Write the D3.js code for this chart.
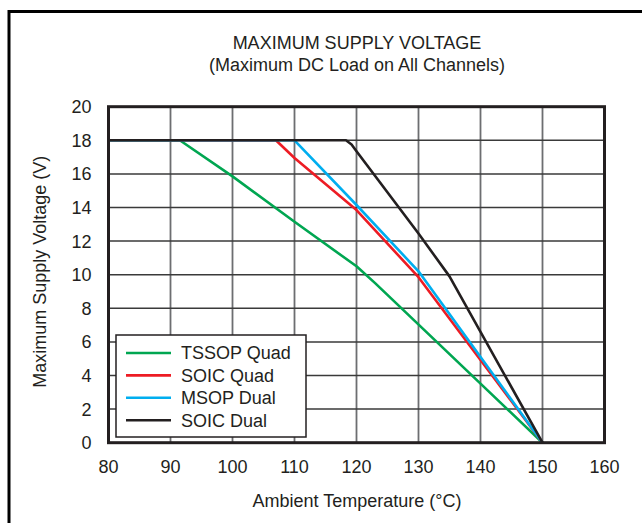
<!DOCTYPE html>
<html>
<head>
<meta charset="utf-8">
<title>Maximum Supply Voltage</title>
<style>
body { margin: 0; background: #fff; }
svg text { font-family: 'Liberation Sans', Arial, sans-serif; fill: #231f20; }
.title { font-size: 18px; text-anchor: middle; }
.tick-label { font-size: 18px; }
.axis-title { font-size: 18px; text-anchor: middle; }
.legend-label { font-size: 18px; }
</style>
</head>
<body>
<svg width="642" height="523"></svg>
<script src="https://d3js.org/d3.v7.min.js"></script>
<script>
// tick values
var xTicks = [80, 90, 100, 110, 120, 130, 140, 150, 160];
var yTicks = [0, 2, 4, 6, 8, 10, 12, 14, 16, 18, 20];

// series (temperature, volts)
var seriesNames = ["TSSOP Quad", "SOIC Quad", "MSOP Dual", "SOIC Dual"];
var seriesColors = ["#00a651", "#ed1c24", "#00aeef", "#231f20"];
var tssopQuad = [[80, 18], [91.5, 18], [100, 15.85], [110, 13.15], [120, 10.5], [123, 9.5], [150, 0]];
var soicQuad  = [[80, 18], [107, 18], [110, 16.95], [120, 13.85], [130, 9.85], [150, 0]];
var msopDual  = [[80, 18], [110, 18], [120, 14.15], [130, 10.2], [150, 0]];
var soicDual  = [[80, 18], [118.3, 18], [119.2, 17.75], [120, 17.35], [130, 12.45], [135, 9.9], [150, 0]];
var allSeries = [tssopQuad, soicQuad, msopDual, soicDual];

var svg = d3.select("svg");
var plotLeft = 108.5, plotTop = 106.7, w = 496, h = 336;

// outer frame, clipped at the right and bottom
svg.append("rect")
  .attr("x", 9).attr("y", 11.5)
  .attr("width", 700).attr("height", 600)
  .attr("fill", "none").attr("stroke", "#000").attr("stroke-width", 3);

svg.append("text").attr("class", "title").attr("x", 357).attr("y", 49).text("MAXIMUM SUPPLY VOLTAGE");
svg.append("text").attr("class", "title").attr("x", 357).attr("y", 70.5).text("(Maximum DC Load on All Channels)");

var x = d3.scaleLinear().domain([80, 160]).range([0, w]);
var y = d3.scaleLinear().domain([0, 20]).range([h, 0]);

var g = svg.append("g").attr("transform", "translate(" + plotLeft + "," + plotTop + ")");

// grid
g.selectAll(".vgrid").data(xTicks.slice(1, -1)).enter().append("line")
  .attr("x1", d => x(d)).attr("x2", d => x(d))
  .attr("y1", 0).attr("y2", h)
  .attr("stroke", "#6d6e71").attr("stroke-width", 1.8);
g.selectAll(".hgrid").data(yTicks.slice(1, -1)).enter().append("line")
  .attr("x1", 0).attr("x2", w)
  .attr("y1", d => y(d)).attr("y2", d => y(d))
  .attr("stroke", "#3a3a3a").attr("stroke-width", 1.5);

// tick labels
g.selectAll(".xl").data(xTicks).enter().append("text")
  .attr("class", "tick-label")
  .attr("x", d => x(d)).attr("y", h + 30)
  .attr("text-anchor", "middle")
  .text(d => d);
g.selectAll(".yl").data(yTicks).enter().append("text")
  .attr("class", "tick-label")
  .attr("x", -17).attr("y", d => y(d) + 6.5)
  .attr("text-anchor", "end")
  .text(d => d);

// lines
var line = d3.line().x(d => x(d[0])).y(d => y(d[1]));
g.selectAll(".series").data(allSeries).enter().append("path")
  .attr("d", line)
  .attr("fill", "none")
  .attr("stroke", (d, i) => seriesColors[i])
  .attr("stroke-width", 2.6)
  .attr("stroke-linejoin", "round");

// plot frame
g.append("rect")
  .attr("width", w).attr("height", h)
  .attr("fill", "none").attr("stroke", "#231f20").attr("stroke-width", 3);

// axis titles
svg.append("text").attr("class", "axis-title")
  .attr("x", 357).attr("y", 507).text("Ambient Temperature (°C)");
svg.append("text").attr("class", "axis-title")
  .attr("transform", "translate(46," + (plotTop + h / 2 - 3) + ") rotate(-90)")
  .text("Maximum Supply Voltage (V)");

// legend
var legend = svg.append("g").attr("transform", "translate(116,335)");
legend.append("rect")
  .attr("width", 190).attr("height", 102)
  .attr("fill", "#fff").attr("stroke", "#231f20").attr("stroke-width", 1.5);
var items = legend.selectAll(".item").data(seriesNames).enter().append("g")
  .attr("transform", (d, i) => "translate(0," + (18 + i * 22.4) + ")");
items.append("line")
  .attr("x1", 10).attr("x2", 55)
  .attr("stroke", (d, i) => seriesColors[i]).attr("stroke-width", 2.6);
items.append("text")
  .attr("class", "legend-label")
  .attr("x", 65).attr("y", 6.3)
  .text(d => d);
</script>
</body>
</html>
